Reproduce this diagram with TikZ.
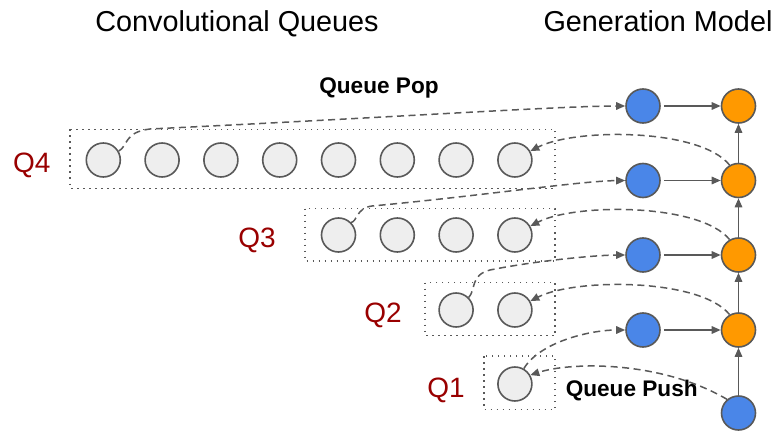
\documentclass[tikz,border=0pt]{standalone}
\usepackage{fontspec}
\setmainfont{Liberation Sans}
\usetikzlibrary{arrows.meta}
\definecolor{edge}{HTML}{595959}
\definecolor{qfill}{HTML}{EEEEEE}
\definecolor{gblue}{HTML}{4A86E8}
\definecolor{gorange}{HTML}{FF9900}
\definecolor{qred}{HTML}{990000}
\tikzset{
  cell/.style={circle, draw=edge, line width=1.6pt, minimum size=34pt, inner sep=0pt},
  qc/.style={cell, fill=qfill},
  bc/.style={cell, fill=gblue},
  oc/.style={cell, fill=gorange},
  qbox/.style={draw=edge, line width=1.5pt, dash pattern=on 1.5pt off 4.5pt},
  tip/.style={-{Triangle[length=9pt,width=7.5pt]}},
  flow/.style={tip, draw=edge, line width=1.5pt},
  feed/.style={tip, draw=edge, line width=1.5pt, dash pattern=on 7pt off 4.5pt},
  title/.style={anchor=base, font=\fontsize{28.8}{34}\selectfont},
  qname/.style={anchor=base, text=qred, font=\fontsize{28}{34}\selectfont},
  note/.style={anchor=base, font=\fontsize{22.6}{26}\selectfont\bfseries},
}
\begin{document}
\begin{tikzpicture}[x=1pt, y=-1pt]
\useasboundingbox (0,0) rectangle (774,433);

% headings
\node[title] (tq) at (237,31.7) {Convolutional Queues};
\node[title] (tg) at (658,31.5) {Generation Model};

% queue frames
\draw[qbox] (70,129.5) rectangle (555,188.5);
\draw[qbox] (305,208.5) rectangle (555,261);
\draw[qbox] (425,282.5) rectangle (555,335.5);
\draw[qbox] (484,356) rectangle (555,409.5);

% queue cells
\foreach \k in {1,...,8} \node[qc] (q4-\k) at ({103.3+58.8*(\k-1)},160) {};
\foreach \k in {1,...,4} \node[qc] (q3-\k) at ({338.5+58.8*(\k-1)},235) {};
\foreach \k in {1,2} \node[qc] (q2-\k) at ({456.1+58.8*(\k-1)},310) {};
\node[qc] (q1-1) at (514.9,384) {};

% queue names
\node[qname] (n4) at (31.7,172.3) {Q4};
\node[qname] (n3) at (257,247) {Q3};
\node[qname] (n2) at (383,322) {Q2};
\node[qname] (n1) at (446,397.5) {Q1};

% generation model
\node[bc] (b1) at (643,106) {};
\node[bc] (b2) at (643,180.5) {};
\node[bc] (b3) at (643,255) {};
\node[bc] (b4) at (643,330) {};
\node[oc] (o1) at (738.5,106) {};
\node[oc] (o2) at (738.5,180.5) {};
\node[oc] (o3) at (738.5,255) {};
\node[oc] (o4) at (738.5,330) {};
\node[bc] (b0) at (738.5,413) {};

\foreach \r in {1,...,4} \draw[flow, shorten <=3pt] (b\r) -- (o\r);
\draw[flow] (b0) -- (o4);
\draw[flow] (o4) -- (o3);
\draw[flow] (o3) -- (o2);
\draw[flow] (o2) -- (o1);

% labels
\node[note] (pop) at (379,93.3) {Queue Pop};
\node[note] (push) at (631.7,396.7) {Queue Push};

% pops: first cell of each queue feeds the model
\draw[feed] (q4-1.30) .. controls (128,146) and (124,132) .. (150,129)
  .. controls (400,117) and (560,106) .. (b1.west);
\draw[feed] (q3-1.45) .. controls (357,222) and (356,208) .. (372,206)
  .. controls (480,196) and (580,181) .. (b2.west);
\draw[feed] (q2-1.45) .. controls (476,290) and (470,275) .. (490,270)
  .. controls (540,260) and (600,255) .. (b3.west);
\draw[feed] (q1-1.60) .. controls (540,342) and (590,330) .. (b4.west);

% pushes: each layer output is appended to the next queue
\draw[feed] (o2.120) .. controls (700,128) and (575,128) .. (q4-8.30);
\draw[feed] (o3.120) .. controls (700,203) and (575,203) .. (q3-4.30);
\draw[feed] (o4.120) .. controls (700,278) and (575,278) .. (q2-2.30);
\draw[feed] (b0.130) .. controls (660,360) and (570,362) .. (q1-1.30);
\end{tikzpicture}
\end{document}
